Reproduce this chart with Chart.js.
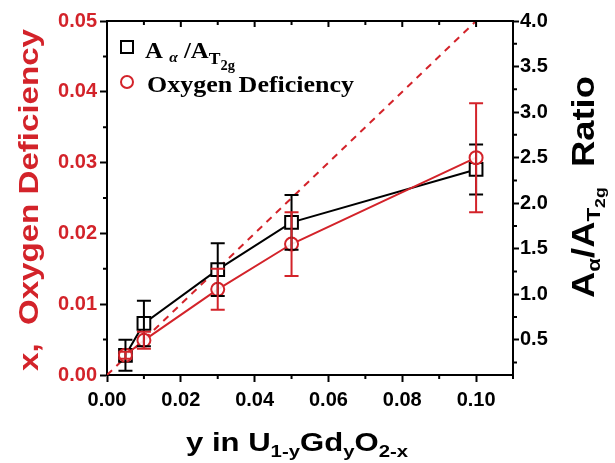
<!DOCTYPE html>
<html>
<head>
<meta charset="utf-8">
<script src="https://cdn.jsdelivr.net/npm/chart.js@4.4.0/dist/chart.umd.min.js"></script>
<style>
  html, body { margin: 0; padding: 0; background: #fff; }
  #wrap { width: 615px; height: 463px; }
</style>
</head>
<body>
<div id="wrap"><canvas id="chart" width="615" height="463"></canvas></div>
<script>
// Gd content y (x axis)
const gdContent = [0.005, 0.01, 0.03, 0.05, 0.10];
// A_alpha / A_T2g ratio (right axis) and its error
const ratio = [0.33, 0.68, 1.27, 1.79, 2.37];
const ratioErr = [0.17, 0.25, 0.29, 0.30, 0.275];
// oxygen deficiency x (left axis) and its error
const oxyDef = [0.0028, 0.0049, 0.0121, 0.0185, 0.0307];
const oxyErr = [0.0005, 0.0012, 0.0029, 0.0045, 0.0077];
// ideal x = y/2 line
const idealX = [0, 0.11];
const idealY = [0, 0.055];

const xTicks = [0, 0.02, 0.04, 0.06, 0.08, 0.10];
const leftTicks = [0, 0.01, 0.02, 0.03, 0.04, 0.05];
const rightTicks = [0.5, 1.0, 1.5, 2.0, 2.5, 3.0, 3.5, 4.0];

const RED = '#d3232a';
const tickFont = { family: "'Liberation Sans', Arial, sans-serif", size: 20, weight: 'bold' };

function pts(xs, ys) { return xs.map((x, i) => ({ x, y: ys[i] })); }

function richWidth(ctx, parts) {
  let w = 0;
  parts.forEach(p => { ctx.font = p.font; w += ctx.measureText(p.t).width; });
  return w;
}

// draw text made of pieces (for sub scripts), stretched to a target width
function drawRich(ctx, parts, x, y, angle, targetW, color, align) {
  ctx.save();
  ctx.translate(x, y);
  ctx.rotate(angle);
  const w = richWidth(ctx, parts);
  const s = targetW ? targetW / w : 1;
  ctx.scale(s, 1);
  let cx = align === 'left' ? 0 : -w / 2;
  ctx.textBaseline = 'alphabetic';
  ctx.textAlign = 'left';
  parts.forEach(p => {
    ctx.font = p.font;
    ctx.fillStyle = p.color || color;
    ctx.fillText(p.t, cx, p.dy || 0);
    cx += ctx.measureText(p.t).width;
  });
  ctx.restore();
}

const errorBars = {
  id: 'errorBars',
  afterDatasetsDraw(chart) {
    const ctx = chart.ctx;
    [1, 0].forEach(i => {
      const ds = chart.data.datasets[i];
      const meta = chart.getDatasetMeta(i);
      const ys = chart.scales[ds.yAxisID];
      ctx.save();
      ctx.strokeStyle = ds.borderColor;
      ctx.lineWidth = 2;
      meta.data.forEach((el, j) => {
        const v = ds.data[j].y, e = ds.errs[j];
        const y1 = ys.getPixelForValue(v + e), y2 = ys.getPixelForValue(v - e);
        ctx.beginPath();
        ctx.moveTo(el.x, y1); ctx.lineTo(el.x, y2);
        ctx.moveTo(el.x - 7, y1); ctx.lineTo(el.x + 7, y1);
        ctx.moveTo(el.x - 7, y2); ctx.lineTo(el.x + 7, y2);
        ctx.stroke();
      });
      ctx.restore();
    });
  }
};

const decorations = {
  id: 'decorations',
  afterDraw(chart) {
    const ctx = chart.ctx;
    const a = chart.chartArea;
    const xs = chart.scales.x, yl = chart.scales.y, yr = chart.scales.y2;
    ctx.save();
    ctx.strokeStyle = '#000';
    ctx.lineWidth = 2;
    ctx.beginPath();
    // top frame
    ctx.moveTo(a.left - 1, a.top); ctx.lineTo(a.right + 1, a.top);
    // top ticks, inward
    for (let v = 0.01; v < 0.111; v += 0.01) {
      const px = xs.getPixelForValue(v);
      const len = Math.round(v * 100) % 2 === 0 ? 6 : 4;
      ctx.moveTo(px, a.top); ctx.lineTo(px, a.top + len);
    }
    // minor ticks bottom
    for (let v = 0.01; v < 0.111; v += 0.02) {
      const px = xs.getPixelForValue(v);
      ctx.moveTo(px, a.bottom); ctx.lineTo(px, a.bottom + 4);
    }
    // minor ticks left
    for (let v = 0.005; v < 0.05; v += 0.01) {
      const py = yl.getPixelForValue(v);
      ctx.moveTo(a.left, py); ctx.lineTo(a.left - 4, py);
    }
    // minor ticks right
    for (let v = 0.25; v < 4; v += 0.5) {
      const py = yr.getPixelForValue(v);
      ctx.moveTo(a.right, py); ctx.lineTo(a.right + 4, py);
    }
    ctx.stroke();

    // legend
    ctx.strokeStyle = '#000';
    ctx.strokeRect(121, 41, 12, 12);
    ctx.strokeStyle = RED;
    ctx.beginPath();
    ctx.arc(127, 82, 6, 0, Math.PI * 2);
    ctx.stroke();
    ctx.restore();

    const tb = "bold 24px 'Liberation Serif', 'Times New Roman', serif";
    drawRich(ctx, [
      { t: 'A ', font: tb },
      { t: 'α', font: "bold italic 15px 'Liberation Serif', serif", dy: 4 },
      { t: ' /A', font: tb },
      { t: 'T', font: "bold 17px 'Liberation Serif', serif", dy: 6 },
      { t: '2g', font: "bold 14px 'Liberation Serif', serif", dy: 12 }
    ], 145, 58, 0, 90, '#000', 'left');
    drawRich(ctx, [{ t: 'Oxygen Deficiency', font: tb }], 147, 92, 0, 207, '#000', 'left');

    // axis titles
    const sf = "'Liberation Sans', Arial, sans-serif";
    drawRich(ctx, [{ t: 'x,  Oxygen Deficiency', font: 'bold 28px ' + sf }],
      38, 200, -Math.PI / 2, 342, RED);
    drawRich(ctx, [
      { t: 'A', font: 'bold 31px ' + sf },
      { t: 'α', font: 'bold 19px ' + sf, dy: 6 },
      { t: '/A', font: 'bold 31px ' + sf },
      { t: 'T', font: 'bold 19px ' + sf, dy: 6 },
      { t: '2g', font: 'bold 15px ' + sf, dy: 11 },
      { t: '  Ratio', font: 'bold 31px ' + sf }
    ], 594, 187, -Math.PI / 2, 222, '#000');
    drawRich(ctx, [
      { t: 'y in U', font: 'bold 26px ' + sf },
      { t: '1-y', font: 'bold 17px ' + sf, dy: 6 },
      { t: 'Gd', font: 'bold 26px ' + sf },
      { t: 'y', font: 'bold 17px ' + sf, dy: 6 },
      { t: 'O', font: 'bold 26px ' + sf },
      { t: '2-x', font: 'bold 17px ' + sf, dy: 6 }
    ], 297, 451, 0, 222, '#000');
  }
};

new Chart(document.getElementById('chart'), {
  type: 'line',
  data: {
    datasets: [
      {
        label: 'Oxygen Deficiency',
        data: pts(gdContent, oxyDef),
        errs: oxyErr,
        yAxisID: 'y',
        borderColor: RED,
        borderWidth: 2,
        pointStyle: 'circle',
        pointRadius: 6.5,
        pointBorderWidth: 2,
        pointBackgroundColor: 'rgba(255,255,255,0.9)',
        pointBorderColor: RED,
        order: 0
      },
      {
        label: 'A/A ratio',
        data: pts(gdContent, ratio),
        errs: ratioErr,
        yAxisID: 'y2',
        borderColor: '#000',
        borderWidth: 2,
        pointStyle: 'rect',
        pointRadius: 9,
        pointBorderWidth: 2,
        pointBackgroundColor: '#fff',
        pointBorderColor: '#000',
        order: 1
      },
      {
        label: 'ideal',
        data: pts(idealX, idealY),
        yAxisID: 'y',
        borderColor: RED,
        borderWidth: 2,
        borderDash: [7, 6],
        pointRadius: 0,
        order: 2
      }
    ]
  },
  options: {
    responsive: false,
    animation: false,
    layout: { padding: { top: 21, left: 0, right: 0, bottom: 0 } },
    plugins: { legend: { display: false }, tooltip: { enabled: false } },
    scales: {
      x: {
        type: 'linear', position: 'bottom', min: 0, max: 0.11,
        afterBuildTicks: s => { s.ticks = xTicks.map(v => ({ value: v })); },
        afterFit: s => { s.height = 88; },
        ticks: { color: '#000', font: tickFont, padding: 6, callback: v => v.toFixed(2) },
        grid: { drawOnChartArea: false, tickLength: 7, tickColor: '#000', tickWidth: 2 },
        border: { color: '#000', width: 2 }
      },
      y: {
        type: 'linear', position: 'left', min: 0, max: 0.05,
        afterBuildTicks: s => { s.ticks = leftTicks.map(v => ({ value: v })); },
        afterFit: s => { s.width = 107; },
        ticks: { color: RED, font: tickFont, padding: 3, callback: v => v.toFixed(2) },
        grid: { drawOnChartArea: false, tickLength: 7, tickColor: '#000', tickWidth: 2 },
        border: { color: '#000', width: 2 }
      },
      y2: {
        type: 'linear', position: 'right', min: 0.114, max: 4.0,
        afterBuildTicks: s => { s.ticks = rightTicks.map(v => ({ value: v })); },
        afterFit: s => { s.width = 102; },
        ticks: { color: '#000', font: tickFont, padding: 1, callback: v => v.toFixed(1) },
        grid: { drawOnChartArea: false, tickLength: 6, tickColor: '#000', tickWidth: 2 },
        border: { color: '#000', width: 2 }
      }
    }
  },
  plugins: [errorBars, decorations]
});
</script>
</body>
</html>
